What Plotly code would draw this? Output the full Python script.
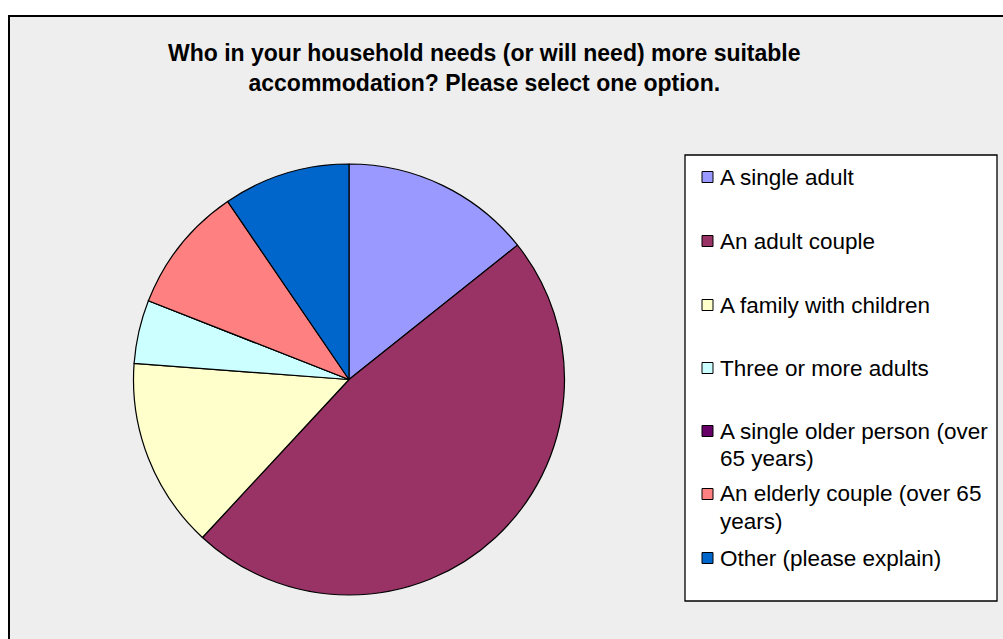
import plotly.graph_objects as go

labels = ["A single adult", "An adult couple", "A family with children",
          "Three or more adults", "A single older person (over 65 years)",
          "An elderly couple (over 65 years)", "Other (please explain)"]
legend_text = ["A single adult", "An adult couple", "A family with children",
               "Three or more adults", "A single older person (over<br>65 years)",
               "An elderly couple (over 65<br>years)", "Other (please explain)"]
values = [3, 10, 3, 1, 0, 2, 2]
colors = ["#9999FF", "#993366", "#FFFFCC", "#CCFFFF", "#660066", "#FF8080", "#0066CC"]
title_text = "Who in your household needs (or will need) more suitable<br>accommodation? Please select one option."

W, H = 1003, 639
def px(x):
    return x / W
def py(y):
    return 1 - y / H

FONT = "Liberation Sans, Arial, sans-serif"

fig = go.Figure(go.Pie(
    labels=labels, values=values, sort=False, direction="clockwise", rotation=0,
    marker=dict(colors=colors, line=dict(color="black", width=1.2)),
    textinfo="none", hoverinfo="label+percent",
    domain=dict(x=[px(133), px(565)], y=[py(595), py(164)]),
    showlegend=False,
))

shapes = [
    dict(type="rect", xref="paper", yref="paper", x0=px(9), x1=px(1020), y0=py(16), y1=py(660),
         fillcolor="#EEEEEE", line=dict(color="black", width=2), layer="below"),
    dict(type="rect", xref="paper", yref="paper", x0=px(685), x1=px(997), y0=py(155), y1=py(601),
         fillcolor="white", line=dict(color="black", width=1.3), layer="below"),
]
annotations = [dict(xref="paper", yref="paper", x=px(484), y=py(38), xanchor="center",
                    yanchor="top", showarrow=False, align="center",
                    text="<b>" + title_text + "</b>",
                    font=dict(family=FONT, size=23, color="black"))]
ys = [177, 241, 305, 368, 431, 494, 558]
for txt, c, y in zip(legend_text, colors, ys):
    shapes.append(dict(type="rect", xref="paper", yref="paper",
                       x0=px(702), x1=px(713), y0=py(y - 5.5), y1=py(y + 5.5),
                       fillcolor=c, line=dict(color="black", width=1)))
    for i, line in enumerate(txt.split("<br>")):
        annotations.append(dict(xref="paper", yref="paper", x=px(718), y=py(y + 27 * i),
                                xanchor="left", yanchor="middle", align="left", showarrow=False,
                                text=line, font=dict(family=FONT, size=22.5, color="black")))

fig.update_layout(
    width=W, height=H, margin=dict(l=0, r=0, t=0, b=0),
    paper_bgcolor="white", plot_bgcolor="white",
    shapes=shapes, annotations=annotations,
)
fig.write_html("out.html", config={"displayModeBar": False},
               post_script="document.body.style.margin='0';document.body.style.overflow='hidden';")
